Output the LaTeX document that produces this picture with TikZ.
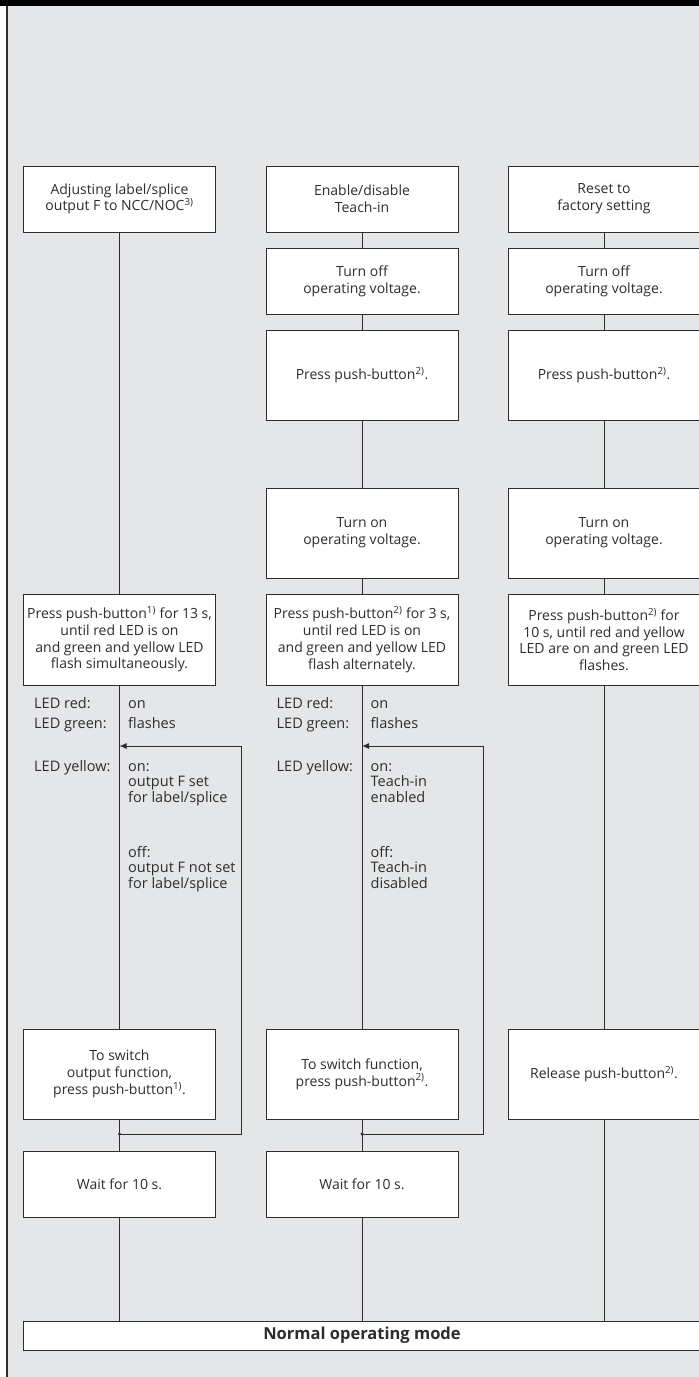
\documentclass[tikz,border=0pt]{standalone}
\usepackage{fontspec}
\setmainfont{Open Sans}
\usetikzlibrary{positioning,arrows.meta}
\definecolor{paper}{RGB}{229,230,232}
\definecolor{ink}{RGB}{45,45,45}
\newcommand{\btnref}[1]{\textsuperscript{#1)}}
\tikzset{
	stepbox/.style={draw=ink,fill=white,line width=.9pt,minimum width=192pt,inner sep=0pt,align=center,text=ink,font=\fontsize{14}{16.7}\selectfont},
	ledtext/.style={inner sep=0pt,align=left,text=ink,font=\fontsize{14.5}{15.5}\selectfont},
	flow/.style={draw=ink,line width=.9pt}
}
\begin{document}
\begin{tikzpicture}[x=1pt,y=-1pt]
	\useasboundingbox (0,0) rectangle (699,1377);
	\fill[white] (0,0) rectangle (699,1377);
	\fill[paper] (7,0) rectangle (699,1377);
	\draw[ink,line width=1.2pt] (7,0)--(7,1377);
	\fill[black] (0,0) rectangle (699,5.5);
	\node[stepbox,minimum height=66pt] (head1) at (119.5,199) {Adjusting label/splice\\output F to NCC/NOC\btnref{3}};
	\node[stepbox,minimum height=66pt] (head2) at (362,199) {Enable/disable\\Teach-in};
	\node[stepbox,minimum height=66pt] (head3) at (604,199) {Reset to\\factory setting};
	\foreach \c/\x in {2/362,3/604}
	{
		\node[stepbox,minimum height=66pt] (off\c) at (\x,281) {Turn off\\operating voltage.};
		\node[stepbox,minimum height=90pt] (push\c) at (\x,375) {Press push-button\btnref{2}.};
		\node[stepbox,minimum height=90pt] (on\c) at (\x,533) {Turn on\\operating voltage.};
	}
	\node[stepbox,minimum height=91pt] (hold1) at (119.5,639.5) {Press push-button\btnref{1} for 13 s,\\until red LED is on\\and green and yellow LED\\flash simultaneously.};
	\node[stepbox,minimum height=91pt] (hold2) at (362,639.5) {Press push-button\btnref{2} for 3 s,\\until red LED is on\\and green and yellow LED\\flash alternately.};
	\node[stepbox,minimum height=91pt] (hold3) at (604,639.5) {Press push-button\btnref{2} for\\10 s, until red and yellow\\LED are on and green LED\\flashes.};
	\node[stepbox,minimum height=90pt] (swap1) at (119.5,1074) {To switch\\output function,\\press push-button\btnref{1}.};
	\node[stepbox,minimum height=90pt] (swap2) at (362,1074) {To switch function,\\press push-button\btnref{2}.};
	\node[stepbox,minimum height=90pt] (rel3) at (604,1074) {Release push-button\btnref{2}.};
	\node[stepbox,minimum height=66pt] (wait1) at (119.5,1184) {Wait for 10 s.};
	\node[stepbox,minimum height=66pt] (wait2) at (362,1184) {Wait for 10 s.};
	\node[stepbox,minimum height=29pt,minimum width=678pt,font=\fontsize{16.5}{18}\selectfont\bfseries] (normal) at (362,1335.5) {Normal operating mode};
	\foreach \c/\x in {1/119.5,2/362}
	{
		\node[ledtext,anchor=base west] (red\c) at (\x-85.5,708) {LED red:};
		\node[ledtext,anchor=base west] (green\c) at (\x-85.5,728) {LED green:};
		\node[ledtext,anchor=base west] (yel\c) at (\x-85.5,771) {LED yellow:};
		\node[ledtext,anchor=base west] (redon\c) at (\x+8.5,708) {on};
		\node[ledtext,anchor=base west] (greenfl\c) at (\x+8.5,728) {flashes};
		\coordinate (tip\c) at (\x,746);
		\coordinate (turn\c) at (\x+121.5,746);
		\coordinate (join\c) at (\x,1134);
		\draw[flow,-{Latex[length=7pt,width=6pt]}] (join\c) -| (turn\c) -- (tip\c);
		\fill[ink] (join\c) circle (1.7);
	}
	\node[ledtext,anchor=base west] (yelon1) at (128,802) {on:\\output F set\\for label/splice};
	\node[ledtext,anchor=base west] (yeloff1) at (128,888) {off:\\output F not set\\for label/splice};
	\node[ledtext,anchor=base west] (yelon2) at (370.5,802) {on:\\Teach-in\\enabled};
	\node[ledtext,anchor=base west] (yeloff2) at (370.5,888) {off:\\Teach-in\\disabled};
	\draw[flow] (head1)--(hold1) (hold1)--(swap1) (swap1)--(wait1) (wait1)--(wait1|-normal.north);
	\draw[flow] (head2)--(off2) (off2)--(push2) (push2)--(on2) (on2)--(hold2)
		(hold2)--(swap2) (swap2)--(wait2) (wait2)--(wait2|-normal.north);
	\draw[flow] (head3)--(off3) (off3)--(push3) (push3)--(on3) (on3)--(hold3)
		(hold3)--(rel3) (rel3)--(rel3|-normal.north);
\end{tikzpicture}
\end{document}
